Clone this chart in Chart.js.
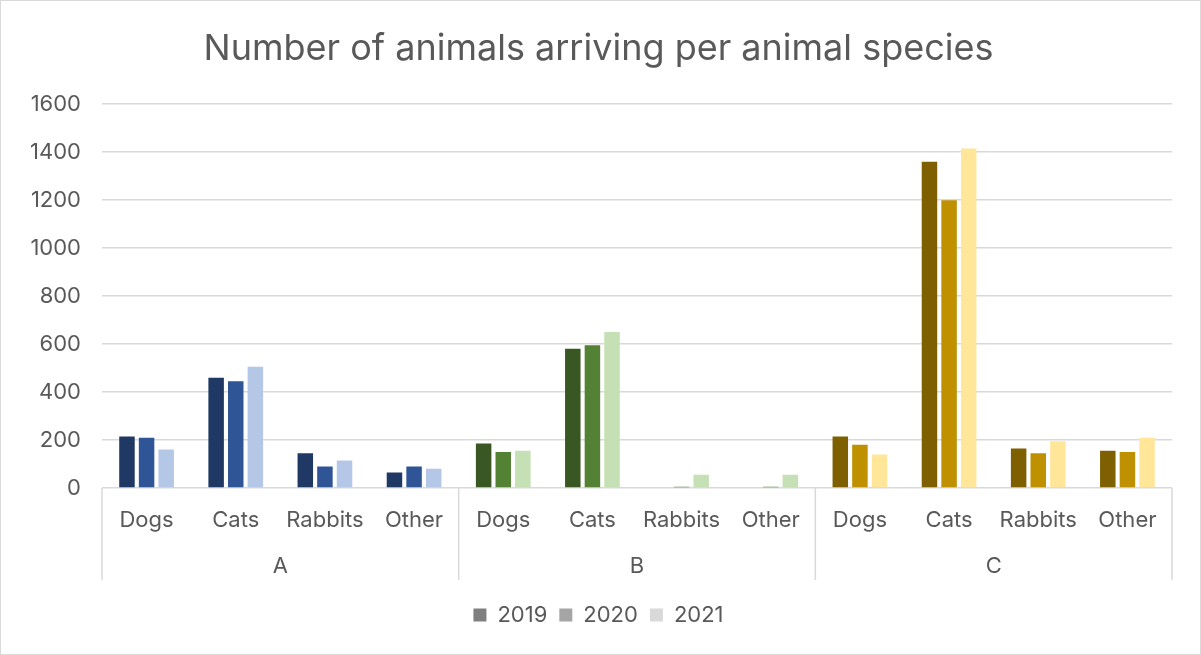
<!DOCTYPE html>
<html><head><meta charset="utf-8">
<script src="https://cdn.jsdelivr.net/npm/chart.js@4/dist/chart.umd.min.js"></script>
<style>
html,body{margin:0;padding:0;background:#fff;}
#wrap{width:1199px;height:653px;border:1px solid #d9d9d9;position:relative;}
canvas{display:block;}
</style></head>
<body>
<div id="wrap"><canvas id="c" width="1199" height="653"></canvas></div>
<script>
const groups = ['A', 'B', 'C'];
const species = ['Dogs', 'Cats', 'Rabbits', 'Other'];
const years = ['2019', '2020', '2021'];
const yTicks = [0, 200, 400, 600, 800, 1000, 1200, 1400, 1600];

// values per category (A Dogs..Other, B Dogs..Other, C Dogs..Other)
const v2019 = [215, 460, 145, 65,   185, 580, 0, 0,   215, 1360, 165, 155];
const v2020 = [210, 445, 90, 90,    150, 595, 5, 5,   180, 1200, 145, 150];
const v2021 = [160, 505, 115, 80,   155, 650, 55, 55, 140, 1415, 195, 210];

const groupColors = {
  A: ['#203864', '#2F5597', '#B4C7E7'],
  B: ['#385723', '#548235', '#C5E0B4'],
  C: ['#7F6000', '#BF9000', '#FFE699']
};
const legendColors = ['#7f7f7f', '#a5a5a5', '#d9d9d9'];

const labels = [];
const catGroup = [];
groups.forEach(g => species.forEach(s => { labels.push(s); catGroup.push(g); }));
const colorsFor = i => catGroup.map(g => groupColors[g][i]);

const FONT = 'Inter';
const TXT = '#595959';
const GRID = '#d9d9d9';

const sepPlugin = {
  id: 'sep',
  afterDraw(chart) {
    const x = chart.scales.x, x2 = chart.scales.x2;
    const ctx = chart.ctx;
    const pos = [x.left];
    for (let g = 1; g < groups.length; g++) {
      const i = g * species.length;
      pos.push((x.getPixelForTick(i - 1) + x.getPixelForTick(i)) / 2);
    }
    pos.push(x.right);
    ctx.save();
    ctx.strokeStyle = GRID;
    ctx.lineWidth = 1.5;
    pos.forEach(p => {
      ctx.beginPath();
      ctx.moveTo(p, x.top);
      ctx.lineTo(p, x2.top + 46);
      ctx.stroke();
    });
    ctx.restore();
  }
};

new Chart(document.getElementById('c'), {
  type: 'bar',
  data: {
    labels: labels,
    datasets: years.map((y, i) => ({
      label: y,
      data: [v2019, v2020, v2021][i],
      backgroundColor: colorsFor(i),
      borderWidth: 0,
      barPercentage: 0.79,
      categoryPercentage: 0.66,
      xAxisID: 'x'
    }))
  },
  plugins: [sepPlugin],
  options: {
    responsive: false,
    animation: false,
    layout: { padding: { left: 24, right: 28, top: 0, bottom: 18 } },
    plugins: {
      title: {
        display: true,
        text: 'Number of animals arriving per animal species',
        color: TXT,
        font: { family: FONT, size: 36, weight: 'normal' },
        padding: { top: 27, bottom: 33 }
      },
      legend: {
        position: 'bottom',
        labels: {
          color: TXT,
          font: { family: FONT, size: 22 },
          boxWidth: 13,
          boxHeight: 13,
          padding: 12,
          generateLabels: () => years.map((y, i) => ({
            text: y, fillStyle: legendColors[i], strokeStyle: legendColors[i],
            lineWidth: 0, fontColor: TXT, datasetIndex: i, hidden: false
          }))
        }
      },
      tooltip: { enabled: false }
    },
    scales: {
      y: {
        min: 0, max: 1600,
        afterBuildTicks: s => { s.ticks = yTicks.map(v => ({ value: v })); },
        afterFit: s => { s.width = 77; },
        grid: { color: GRID, lineWidth: 1.5, drawTicks: false },
        border: { display: false },
        ticks: { color: TXT, font: { family: FONT, size: 22 }, padding: 21, callback: v => String(v) }
      },
      x: {
        offset: true,
        afterFit: s => { s.height = 46; },
        grid: { display: false, drawTicks: false },
        border: { display: false },
        ticks: { color: TXT, font: { family: FONT, size: 22 }, padding: 19, maxRotation: 0, autoSkip: false }
      },
      x2: {
        type: 'category',
        labels: groups,
        position: 'bottom',
        offset: true,
        afterFit: s => { s.height = 58; },
        grid: { display: false, drawTicks: false },
        border: { display: false },
        ticks: { color: TXT, font: { family: FONT, size: 22 }, padding: 19, maxRotation: 0 }
      }
    }
  }
});
</script>
</body></html>
